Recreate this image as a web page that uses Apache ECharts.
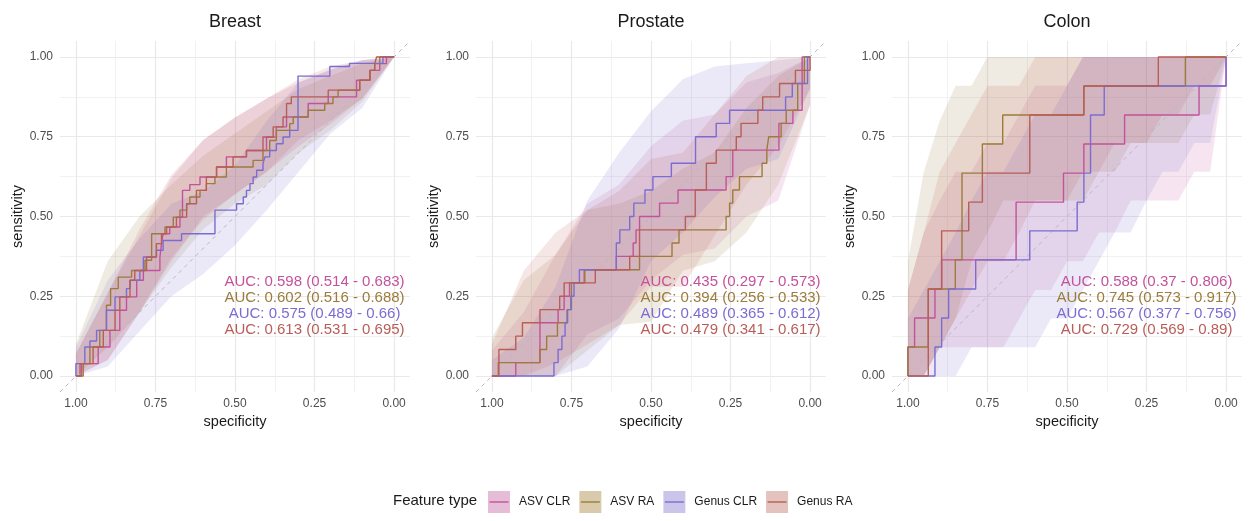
<!DOCTYPE html>
<html>
<head>
<meta charset="utf-8">
<script src="https://cdn.jsdelivr.net/npm/echarts@6.0.0/dist/echarts.min.js"></script>
<style>
  html, body { margin: 0; padding: 0; background: #fff; }
  #chart { width: 1251px; height: 521px; }
</style>
</head>
<body>
<div id="chart"></div>
<script>
// ---- data ----
const featureTypes = ['ASV CLR', 'ASV RA', 'Genus CLR', 'Genus RA'];
const panelTitles = ['Breast', 'Prostate', 'Colon'];
const axisTicks = [0, 0.25, 0.5, 0.75, 1];
const minorTicks = [0.125, 0.375, 0.625, 0.875];

// specificities at which the confidence bands were read
const bandSpecs = [1, 0.9, 0.8, 0.7, 0.6, 0.5, 0.4, 0.3, 0.2, 0.1, 0];
const bandSpecsColon = [1, 0.95, 0.9, 0.85, 0.8, 0.75, 0.7, 0.65, 0.6, 0.55, 0.5,
  0.45, 0.4, 0.35, 0.3, 0.25, 0.2, 0.15, 0.1, 0.05, 0];

// ROC curves: [specificity, sensitivity] at each threshold
const breastAsvClr = [[1,0],[0.982,0.039],[0.930,0.091],[0.893,0.143],[0.862,0.206],[0.841,0.248],
  [0.809,0.300],[0.788,0.331],[0.736,0.373],[0.731,0.415],[0.726,0.446],[0.705,0.467],[0.673,0.498],
  [0.665,0.582],[0.642,0.600],[0.610,0.624],[0.558,0.655],[0.527,0.687],[0.464,0.707],[0.401,0.749],
  [0.370,0.781],[0.338,0.812],[0.270,0.854],[0.207,0.875],[0.118,0.927],[0.076,0.958],[0.045,0.979],
  [0.024,1],[0,1]];
const breastAsvRa = [[1,0],[0.977,0.039],[0.956,0.091],[0.925,0.143],[0.904,0.222],[0.891,0.274],
  [0.867,0.310],[0.825,0.331],[0.783,0.363],[0.762,0.446],[0.720,0.467],[0.694,0.498],[0.673,0.520],
  [0.652,0.540],[0.642,0.561],[0.610,0.582],[0.590,0.603],[0.563,0.624],[0.527,0.655],[0.443,0.676],
  [0.412,0.707],[0.391,0.738],[0.370,0.770],[0.328,0.791],[0.317,0.812],[0.270,0.833],[0.218,0.854],
  [0.192,0.875],[0.176,0.896],[0.108,0.927],[0.076,0.958],[0.061,0.979],[0.045,1],[0,1]];
const breastGenusClr = [[1,0],[1,0.039],[0.972,0.091],[0.956,0.110],[0.935,0.143],[0.904,0.206],
  [0.877,0.248],[0.841,0.274],[0.830,0.300],[0.799,0.331],[0.788,0.373],[0.747,0.394],[0.726,0.425],
  [0.668,0.446],[0.563,0.520],[0.495,0.540],[0.474,0.561],[0.464,0.582],[0.453,0.603],[0.443,0.624],
  [0.432,0.645],[0.412,0.666],[0.406,0.687],[0.391,0.707],[0.370,0.728],[0.349,0.749],[0.328,0.770],
  [0.302,0.940],[0.202,0.970],[0.140,0.980],[0.035,1],[0,1]];
const breastGenusRa = [[1,0],[0.987,0.039],[0.946,0.091],[0.914,0.143],[0.877,0.206],[0.862,0.248],
  [0.830,0.300],[0.815,0.331],[0.778,0.373],[0.747,0.415],[0.731,0.446],[0.715,0.467],[0.684,0.498],
  [0.652,0.540],[0.621,0.582],[0.590,0.624],[0.558,0.655],[0.506,0.687],[0.464,0.707],[0.412,0.749],
  [0.380,0.781],[0.349,0.812],[0.338,0.854],[0.323,0.875],[0.207,0.896],[0.108,0.927],[0.076,0.958],
  [0.061,0.979],[0.055,1],[0,1]];

const prostateAsvClr = [[1,0],[0.925,0.042],[0.849,0.167],[0.792,0.208],[0.773,0.25],[0.756,0.292],
  [0.710,0.333],[0.609,0.375],[0.556,0.417],[0.547,0.458],[0.536,0.5],[0.473,0.542],[0.415,0.583],
  [0.264,0.625],[0.243,0.708],[0.098,0.792],[0.054,0.833],[0.025,1],[0,1]];
const prostateAsvRa = [[1,0],[0.980,0.042],[0.849,0.083],[0.828,0.125],[0.794,0.167],[0.764,0.208],
  [0.750,0.292],[0.708,0.333],[0.536,0.375],[0.434,0.417],[0.412,0.458],[0.264,0.5],[0.253,0.542],
  [0.243,0.583],[0.222,0.625],[0.151,0.667],[0.136,0.708],[0.130,0.75],[0.091,0.792],[0.075,0.833],
  [0.039,0.917],[0.018,1],[0,1]];
const prostateGenusClr = [[1,0],[0.805,0.042],[0.792,0.083],[0.780,0.125],[0.770,0.167],[0.762,0.208],
  [0.752,0.25],[0.742,0.292],[0.725,0.333],[0.609,0.417],[0.598,0.458],[0.567,0.5],[0.554,0.542],
  [0.519,0.583],[0.494,0.625],[0.436,0.667],[0.360,0.75],[0.295,0.792],[0.253,0.833],[0.077,0.875],
  [0.056,0.917],[0.008,1],[0,1]];
const prostateGenusRa = [[1,0],[0.978,0.083],[0.925,0.125],[0.904,0.167],[0.849,0.208],[0.787,0.25],
  [0.773,0.292],[0.675,0.333],[0.567,0.375],[0.536,0.458],[0.392,0.5],[0.361,0.583],[0.326,0.667],
  [0.295,0.708],[0.232,0.75],[0.217,0.792],[0.164,0.833],[0.149,0.875],[0.096,0.917],[0.046,0.958],
  [0,1]];

const colonAsvClr = [[1,0],[1,0.091],[0.979,0.182],[0.915,0.273],[0.894,0.364],[0.660,0.545],
  [0.511,0.636],[0.447,0.727],[0.319,0.818],[0.085,0.909],[0,1]];
const colonAsvRa = [[1,0],[1,0.091],[0.936,0.273],[0.851,0.364],[0.830,0.636],[0.766,0.727],
  [0.702,0.818],[0.447,0.909],[0.128,1],[0,1]];
const colonGenusClr = [[1,0],[0.915,0.091],[0.894,0.182],[0.872,0.273],[0.787,0.364],[0.617,0.455],
  [0.468,0.545],[0.447,0.636],[0.426,0.818],[0.383,0.909],[0,1]];
const colonGenusRa = [[1,0],[0.936,0.273],[0.894,0.455],[0.809,0.545],[0.766,0.636],[0.617,0.818],
  [0.447,0.909],[0.213,1],[0,1]];

// confidence bands of sensitivity (lower / upper), at bandSpecs / bandSpecsColon
const breastAsvClrLo = [0, 0.05, 0.20, 0.36, 0.50, 0.57, 0.64, 0.72, 0.79, 0.87, 1];
const breastAsvClrHi = [0.07, 0.26, 0.44, 0.62, 0.74, 0.81, 0.87, 0.92, 0.96, 0.99, 1];
const breastAsvRaLo = [0, 0.09, 0.20, 0.34, 0.46, 0.54, 0.60, 0.70, 0.77, 0.86, 1];
const breastAsvRaHi = [0.10, 0.36, 0.50, 0.60, 0.69, 0.76, 0.83, 0.90, 0.94, 0.98, 1];
const breastGenusClrLo = [0, 0.03, 0.14, 0.25, 0.32, 0.41, 0.52, 0.64, 0.76, 0.84, 1];
const breastGenusClrHi = [0.09, 0.30, 0.43, 0.54, 0.58, 0.66, 0.80, 0.92, 0.96, 0.99, 1];
const breastGenusRaLo = [0, 0.05, 0.20, 0.37, 0.49, 0.57, 0.64, 0.74, 0.80, 0.87, 1];
const breastGenusRaHi = [0.07, 0.26, 0.46, 0.63, 0.74, 0.81, 0.87, 0.93, 0.97, 0.99, 1];

const prostateAsvClrLo = [0, 0, 0, 0.13, 0.18, 0.30, 0.38, 0.40, 0.50, 0.55, 0.85];
const prostateAsvClrHi = [0.08, 0.20, 0.38, 0.54, 0.60, 0.72, 0.80, 0.82, 0.92, 0.95, 1];
const prostateAsvRaLo = [0, 0, 0, 0.08, 0.16, 0.17, 0.33, 0.36, 0.45, 0.60, 0.85];
const prostateAsvRaHi = [0.12, 0.30, 0.38, 0.52, 0.54, 0.58, 0.65, 0.70, 0.84, 0.94, 1];
const prostateGenusClrLo = [0, 0, 0, 0.03, 0.15, 0.36, 0.45, 0.56, 0.65, 0.68, 0.90];
const prostateGenusClrHi = [0.05, 0.12, 0.28, 0.55, 0.70, 0.83, 0.93, 0.97, 0.98, 0.99, 1];
const prostateGenusRaLo = [0, 0, 0.04, 0.10, 0.16, 0.28, 0.28, 0.44, 0.60, 0.72, 0.90];
const prostateGenusRaHi = [0.10, 0.33, 0.45, 0.52, 0.58, 0.68, 0.70, 0.82, 0.94, 1, 1];

const colonAsvClrLo = [0, 0, 0.09, 0.09, 0.09, 0.09, 0.09, 0.18, 0.27, 0.27, 0.36, 0.36, 0.45, 0.45, 0.55, 0.55, 0.55, 0.55, 0.64, 0.64, 1];
const colonAsvClrHi = [0.27, 0.45, 0.55, 0.64, 0.64, 0.73, 0.73, 0.82, 0.91, 0.91, 0.91, 1, 1, 1, 1, 1, 1, 1, 1, 1, 1];
const colonAsvRaLo = [0, 0, 0.09, 0.18, 0.36, 0.45, 0.55, 0.55, 0.55, 0.55, 0.55, 0.55, 0.64, 0.64, 0.73, 0.73, 0.73, 0.73, 0.82, 0.82, 1];
const colonAsvRaHi = [0.36, 0.64, 0.80, 0.91, 0.91, 1, 1, 1, 1, 1, 1, 1, 1, 1, 1, 1, 1, 1, 1, 1, 1];
const colonGenusClrLo = [0, 0, 0, 0, 0.09, 0.09, 0.09, 0.09, 0.09, 0.18, 0.18, 0.27, 0.36, 0.45, 0.45, 0.55, 0.64, 0.64, 0.73, 0.73, 1];
const colonGenusClrHi = [0.18, 0.27, 0.36, 0.45, 0.55, 0.64, 0.64, 0.73, 0.82, 0.82, 0.91, 1, 1, 1, 1, 1, 1, 1, 1, 1, 1];
const colonGenusRaLo = [0, 0, 0.09, 0.18, 0.27, 0.36, 0.36, 0.45, 0.55, 0.55, 0.55, 0.64, 0.64, 0.73, 0.73, 0.73, 0.82, 0.82, 0.91, 0.91, 1];
const colonGenusRaHi = [0.27, 0.45, 0.64, 0.73, 0.82, 0.91, 0.91, 0.91, 1, 1, 1, 1, 1, 1, 1, 1, 1, 1, 1, 1, 1];

const breastAuc = ['AUC: 0.598 (0.514 - 0.683)', 'AUC: 0.602 (0.516 - 0.688)',
  'AUC: 0.575 (0.489 - 0.66)', 'AUC: 0.613 (0.531 - 0.695)'];
const prostateAuc = ['AUC: 0.435 (0.297 - 0.573)', 'AUC: 0.394 (0.256 - 0.533)',
  'AUC: 0.489 (0.365 - 0.612)', 'AUC: 0.479 (0.341 - 0.617)'];
const colonAuc = ['AUC: 0.588 (0.37 - 0.806)', 'AUC: 0.745 (0.573 - 0.917)',
  'AUC: 0.567 (0.377 - 0.756)', 'AUC: 0.729 (0.569 - 0.89)'];

// chance line, drawn across the whole panel
const chanceLine = [[1.05, -0.05], [-0.05, 1.05]];

// ---- styles / layout ----
const lineColors = ['#c4519b', '#9c7b3c', '#7b6cd2', '#b95d57'];
const keyFills = ['#e6bdd7', '#d8caab', '#cbc5ea', '#e4c2bd'];
const fontFamily = '"Liberation Sans", Arial, Helvetica, sans-serif';
const aucX = 0.25;
const aucY = [0.30, 0.25, 0.20, 0.15];
const gridLefts = [60, 476, 892];

const panels = [
  { rocs: [breastAsvClr, breastAsvRa, breastGenusClr, breastGenusRa],
    lows: [breastAsvClrLo, breastAsvRaLo, breastGenusClrLo, breastGenusRaLo],
    highs: [breastAsvClrHi, breastAsvRaHi, breastGenusClrHi, breastGenusRaHi],
    specs: bandSpecs, auc: breastAuc },
  { rocs: [prostateAsvClr, prostateAsvRa, prostateGenusClr, prostateGenusRa],
    lows: [prostateAsvClrLo, prostateAsvRaLo, prostateGenusClrLo, prostateGenusRaLo],
    highs: [prostateAsvClrHi, prostateAsvRaHi, prostateGenusClrHi, prostateGenusRaHi],
    specs: bandSpecs, auc: prostateAuc },
  { rocs: [colonAsvClr, colonAsvRa, colonGenusClr, colonGenusRa],
    lows: [colonAsvClrLo, colonAsvRaLo, colonGenusClrLo, colonGenusRaLo],
    highs: [colonAsvClrHi, colonAsvRaHi, colonGenusClrHi, colonGenusRaHi],
    specs: bandSpecsColon, auc: colonAuc }
];

// band polygon: upper edge left->right, lower edge back
const ribbonItem = (color) => (params, api) => {
  if (params.dataIndex !== 0) return null;
  const n = params.dataInsideLength;
  const upper = [], lower = [];
  for (let i = 0; i < n; i++) {
    const s = api.value(0, i);
    upper.push(api.coord([s, api.value(2, i)]));
    lower.unshift(api.coord([s, api.value(1, i)]));
  }
  return {
    type: 'polygon',
    shape: { points: upper.concat(lower) },
    style: { fill: color, opacity: 0.15 }
  };
};

const fmt = (v) => Number(v).toFixed(2);

const grids = [], xAxes = [], yAxes = [], titles = [], series = [];

panelTitles.forEach((t, p) => {
  grids.push({ left: gridLefts[p], top: 41, width: 350, height: 351, containLabel: false, outerBoundsMode: 'none' });
  titles.push({
    text: t, left: gridLefts[p] + 175, top: 13, textAlign: 'center', padding: 0,
    textStyle: { fontSize: 18, fontWeight: 'normal', color: '#1a1a1a', fontFamily }
  });
  // major axis (labels + major grid)
  xAxes.push({
    gridIndex: p, type: 'value', min: -0.05, max: 1.05, inverse: true,
    name: 'specificity', nameLocation: 'middle', nameGap: 19,
    nameTextStyle: { fontSize: 14.5, color: '#1a1a1a', fontFamily },
    axisLine: { show: false },
    axisTick: { show: false, customValues: axisTicks },
    axisLabel: { customValues: axisTicks, formatter: fmt, color: '#4d4d4d', fontSize: 12, margin: 6, fontFamily },
    splitLine: { show: true, lineStyle: { color: '#e9e9e9', width: 1.2 } }
  });
  // minor grid
  xAxes.push({
    gridIndex: p, type: 'value', min: -0.05, max: 1.05, inverse: true,
    axisLine: { show: false },
    axisTick: { show: false, customValues: minorTicks },
    axisLabel: { show: false, customValues: minorTicks },
    splitLine: { show: true, lineStyle: { color: '#eeeeee', width: 0.8 } }
  });
  yAxes.push({
    gridIndex: p, type: 'value', min: -0.05, max: 1.05,
    name: 'sensitivity', nameLocation: 'middle', nameGap: 33, nameRotate: 90,
    nameTextStyle: { fontSize: 14.5, color: '#1a1a1a', fontFamily },
    axisLine: { show: false },
    axisTick: { show: false, customValues: axisTicks },
    axisLabel: { customValues: axisTicks, formatter: fmt, color: '#4d4d4d', fontSize: 12, margin: 7, fontFamily },
    splitLine: { show: true, lineStyle: { color: '#e9e9e9', width: 1.2 } }
  });
  yAxes.push({
    gridIndex: p, type: 'value', min: -0.05, max: 1.05,
    axisLine: { show: false },
    axisTick: { show: false, customValues: minorTicks },
    axisLabel: { show: false, customValues: minorTicks },
    splitLine: { show: true, lineStyle: { color: '#eeeeee', width: 0.8 } }
  });

  const pn = panels[p];
  const xi = 2 * p, yi = 2 * p;

  featureTypes.forEach((ft, k) => {
    series.push({
      type: 'custom', name: ft, xAxisIndex: xi, yAxisIndex: yi, z: 1, silent: true,
      data: pn.specs.map((s, i) => [s, pn.lows[k][i], pn.highs[k][i]]),
      encode: { x: 0, y: [1, 2] },
      renderItem: ribbonItem(lineColors[k])
    });
  });

  series.push({
    type: 'line', xAxisIndex: xi, yAxisIndex: yi, z: 2, silent: true,
    data: chanceLine, symbol: 'none',
    lineStyle: { color: '#b8b8b8', width: 1, type: [4, 4] }
  });

  featureTypes.forEach((ft, k) => {
    series.push({
      type: 'line', name: ft, xAxisIndex: xi, yAxisIndex: yi, z: 3, silent: true,
      step: 'end', data: pn.rocs[k], symbol: 'none',
      lineStyle: { color: lineColors[k], width: 1.4 },
      itemStyle: { color: lineColors[k] }
    });
  });

  series.push({
    type: 'custom', xAxisIndex: xi, yAxisIndex: yi, z: 4, silent: true,
    data: aucY.map((y, k) => [aucX, y, k]),
    encode: { x: 0, y: 1 },
    renderItem: (params, api) => {
      const k = api.value(2);
      const pt = api.coord([api.value(0), api.value(1)]);
      return {
        type: 'text',
        x: pt[0], y: pt[1] + 2,
        style: {
          text: pn.auc[k], fill: lineColors[k], fontSize: 15, fontFamily,
          align: 'center', verticalAlign: 'middle'
        }
      };
    }
  });
});

titles.push({
  text: 'Feature type', left: 393, top: 493, padding: 0,
  textStyle: { fontSize: 15, fontWeight: 'normal', color: '#1a1a1a', fontFamily }
});

const legendBase = {
  left: 488, top: 491, padding: 0, orient: 'horizontal',
  itemWidth: 22, itemHeight: 22, itemGap: 9, selectedMode: false
};

const option = {
  animation: false,
  backgroundColor: '#fff',
  textStyle: { fontFamily },
  title: titles,
  grid: grids,
  xAxis: xAxes,
  yAxis: yAxes,
  legend: [
    Object.assign({}, legendBase, {
      icon: 'rect',
      data: featureTypes.map((n, k) => ({ name: n, itemStyle: { color: keyFills[k], borderWidth: 0 } })),
      textStyle: { fontSize: 12, color: '#1a1a1a', fontFamily, padding: [0, 0, 0, 4] }
    }),
    Object.assign({}, legendBase, {
      z: 5,
      icon: 'path://M0,0 M22,22 M1.5,10.3 L20.5,10.3 L20.5,11.7 L1.5,11.7 Z',
      data: featureTypes.map((n, k) => ({ name: n, itemStyle: { color: lineColors[k], borderWidth: 0 } })),
      textStyle: { fontSize: 12, color: 'rgba(0,0,0,0)', fontFamily, padding: [0, 0, 0, 4] }
    })
  ],
  series: series
};

const chart = echarts.init(document.getElementById('chart'), null, { renderer: 'canvas' });
chart.setOption(option);
</script>
</body>
</html>
